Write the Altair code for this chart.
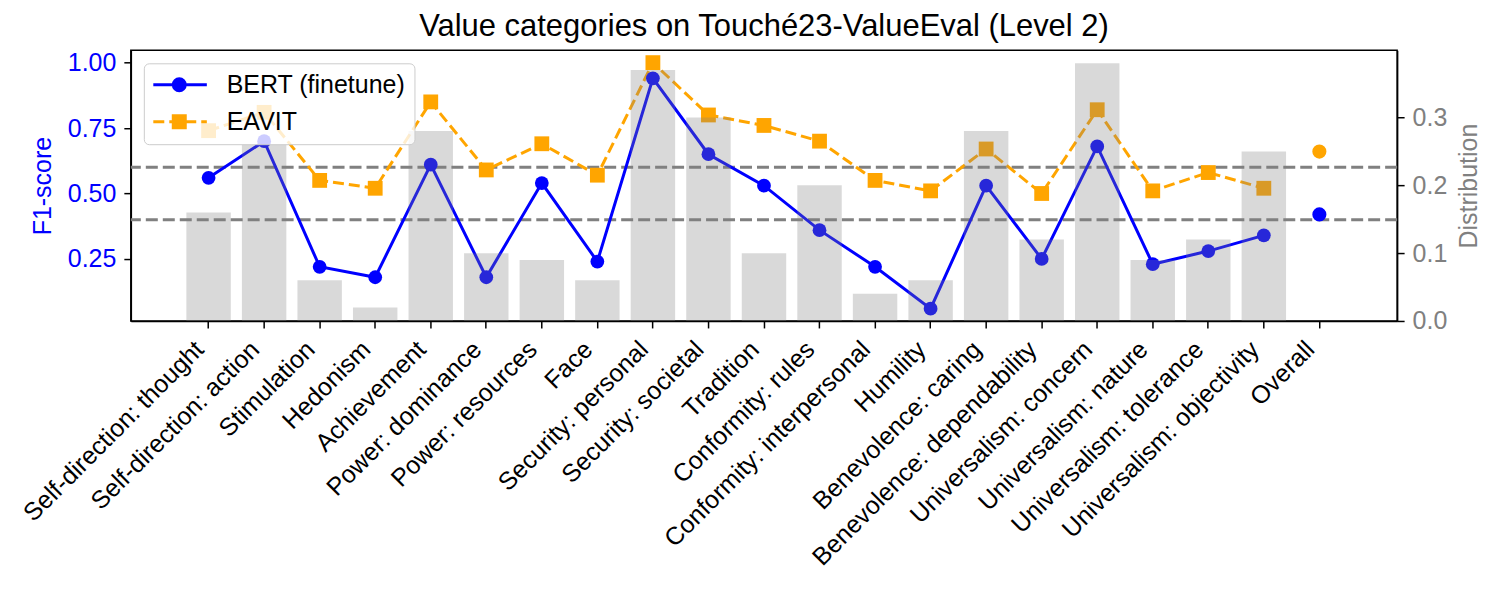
import altair as alt
import pandas as pd

categories = [
    "Self-direction: thought", "Self-direction: action", "Stimulation", "Hedonism",
    "Achievement", "Power: dominance", "Power: resources", "Face",
    "Security: personal", "Security: societal", "Tradition", "Conformity: rules",
    "Conformity: interpersonal", "Humility", "Benevolence: caring",
    "Benevolence: dependability", "Universalism: concern", "Universalism: nature",
    "Universalism: tolerance", "Universalism: objectivity",
]
overall_label = "Overall"
series_names = ["BERT (finetune)", "EAVIT"]
bert_f1 = [0.56, 0.70, 0.22, 0.18, 0.61, 0.18, 0.54, 0.24, 0.94, 0.65,
           0.53, 0.36, 0.22, 0.06, 0.53, 0.25, 0.68, 0.23, 0.28, 0.34]
eavit_f1 = [0.74, 0.81, 0.55, 0.52, 0.85, 0.59, 0.69, 0.57, 1.00, 0.80,
            0.76, 0.70, 0.55, 0.51, 0.67, 0.50, 0.82, 0.51, 0.58, 0.52]
distribution = [0.16, 0.26, 0.06, 0.02, 0.28, 0.10, 0.09, 0.06, 0.37, 0.30,
                0.10, 0.20, 0.04, 0.06, 0.28, 0.12, 0.38, 0.09, 0.12, 0.25]
overall_f1 = [0.42, 0.66]
thresholds = [0.6, 0.4]
left_ticks = [0.25, 0.50, 0.75, 1.00]
right_ticks = [0.0, 0.1, 0.2, 0.3]

FONT = "Liberation Sans"
FS = 25
all_cats = categories + [overall_label]

lines_df = pd.DataFrame({
    "cat": categories + categories,
    "series": [series_names[0]] * len(categories) + [series_names[1]] * len(categories),
    "f1": bert_f1 + eavit_f1,
})
overall_df = pd.DataFrame({"cat": [overall_label] * 2, "series": series_names, "f1": overall_f1})
dist_df = pd.DataFrame({"cat": categories, "dist": distribution})
rule_df = pd.DataFrame({"f1": thresholds})

# matplotlib-like autoscaled limits (5% margins)
all_f1 = bert_f1 + eavit_f1 + overall_f1
rng = max(all_f1) - min(all_f1)
y_lo, y_hi = min(all_f1) - 0.05 * rng, max(all_f1) + 0.05 * rng
d_hi = max(distribution) * 1.05

x_enc = alt.X(
    "cat:N",
    scale=alt.Scale(domain=all_cats, paddingInner=0.2, paddingOuter=1.0),
    axis=alt.Axis(
        title=None, labelAngle=-45, labelAlign="right", labelBaseline="middle",
        labelFontSize=FS, labelFont=FONT, labelColor="black", tickColor="black",
        tickSize=7, tickWidth=1.5, domainColor="black", domainWidth=1.5,
        labelPadding=17, labelOffset=-9, labelLimit=0, grid=False,
    ),
)

y_left = alt.Y(
    "f1:Q",
    scale=alt.Scale(domain=[y_lo, y_hi], nice=False, zero=False),
    axis=alt.Axis(
        title="F1-score", values=left_ticks, format=".2f", labelColor="blue",
        titleColor="blue", labelFontSize=FS, titleFontSize=FS, labelFont=FONT,
        titleFont=FONT, titleFontWeight="normal", tickSize=7, tickWidth=1.5,
        tickColor="black", domainColor="black", domainWidth=1.5, grid=False,
        labelPadding=8, titlePadding=12,
    ),
)

rules = alt.Chart(rule_df).mark_rule(color="gray", strokeWidth=3, strokeDash=[12, 5]).encode(y=y_left)

bert_line = alt.Chart(lines_df).transform_filter(
    alt.datum.series == series_names[0]
).mark_line(color="blue", strokeWidth=3).encode(x=x_enc, y=y_left)
eavit_line = alt.Chart(lines_df).transform_filter(
    alt.datum.series == series_names[1]
).mark_line(color="orange", strokeWidth=3, strokeDash=[11, 5]).encode(x=x_enc, y=y_left)
bert_pts = alt.Chart(lines_df).transform_filter(
    alt.datum.series == series_names[0]
).mark_circle(color="blue", size=190, opacity=1).encode(x=x_enc, y=y_left)
eavit_pts = alt.Chart(lines_df).transform_filter(
    alt.datum.series == series_names[1]
).mark_square(color="orange", size=220, opacity=1).encode(x=x_enc, y=y_left)
overall_pts = alt.Chart(overall_df).mark_circle(size=200, opacity=1).encode(
    x=x_enc, y=y_left,
    color=alt.condition(alt.datum.series == series_names[1], alt.value("orange"), alt.value("blue")),
)

# legend symbols: line + marker drawn as custom symbol paths
bert_sym = "M-1.2,0H4.16M0.8,0A0.6,0.6 0 1,0 2.0,0A0.6,0.6 0 1,0 0.8,0Z"
eavit_sym = "M-1.2,0H-0.1M0.4,0H1.5M2.0,0H3.1M3.6,0H4.16M0.8,-0.6H2.0V0.6H0.8Z"
leg = alt.Legend(
    title=None, orient="top-left", offset=13, fillColor="rgba(255,255,255,0.8)",
    strokeColor="#cccccc", cornerRadius=5, padding=9, labelFontSize=FS,
    labelFont=FONT, labelColor="black", symbolSize=400, symbolStrokeWidth=3,
    labelOffset=49, rowPadding=11, symbolOpacity=1, labelLimit=400,
)
legend_layer = alt.Chart(lines_df).transform_filter("datum.f1 < -100").mark_point(
    filled=True, opacity=1
).encode(
    color=alt.Color("series:N", scale=alt.Scale(domain=series_names, range=["blue", "orange"]), legend=leg),
    stroke=alt.Stroke("series:N", scale=alt.Scale(domain=series_names, range=["blue", "orange"]), legend=leg),
    shape=alt.Shape("series:N", scale=alt.Scale(domain=series_names, range=[bert_sym, eavit_sym]), legend=leg),
)

left = alt.layer(rules, bert_line, eavit_line, bert_pts, eavit_pts, overall_pts, legend_layer)

bars = alt.Chart(dist_df).mark_bar(color="gray", opacity=0.3).encode(
    x=x_enc,
    y=alt.Y(
        "dist:Q",
        scale=alt.Scale(domain=[0, d_hi], nice=False),
        axis=alt.Axis(
            orient="right", title="Distribution", values=right_ticks, format=".1f",
            labelColor="gray", titleColor="gray", labelFontSize=FS, titleFontSize=FS,
            labelFont=FONT, titleFont=FONT, titleFontWeight="normal", tickSize=7,
            tickWidth=1.5, tickColor="black", domainColor="black", domainWidth=1.5,
            grid=False, labelPadding=8, titlePadding=10, titleAngle=270,
            titleBaseline="top",
        ),
    ),
)

chart = alt.layer(left, bars).resolve_scale(y="independent").properties(
    width=1268,
    height=271,
    title=alt.TitleParams(
        "Value categories on Touché23-ValueEval (Level 2)", fontSize=31, font=FONT,
        fontWeight="normal", color="black", offset=7, anchor="middle",
    ),
    padding={"left": 10, "top": 3, "right": 5, "bottom": 5},
).configure_view(stroke="black", strokeWidth=1.5)

chart.save("out.html", embed_options={"renderer": "svg", "actions": False})
